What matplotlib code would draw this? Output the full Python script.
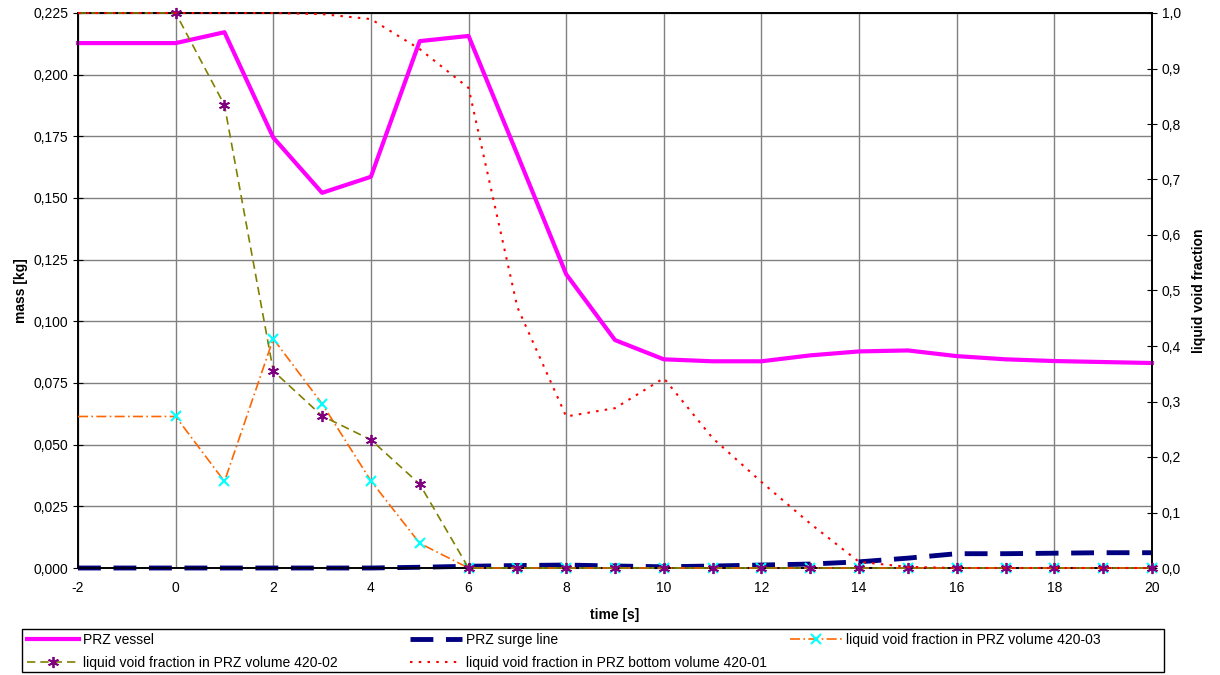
import matplotlib
matplotlib.use("Agg")
import matplotlib.pyplot as plt
from matplotlib.ticker import FuncFormatter, MultipleLocator
from matplotlib.patches import Rectangle

plt.rcParams['font.family'] = ['Liberation Sans', 'DejaVu Sans']

time = [-2, 0, 1, 2, 3, 4, 5, 6, 7, 8, 9, 10, 11, 12, 13, 14, 15, 16, 17, 18, 19, 20]

prz_vessel = [0.2128, 0.2128, 0.2172, 0.1745, 0.1521, 0.1586, 0.2136, 0.2157, 0.1676, 0.1191,
              0.0924, 0.0846, 0.0838, 0.0838, 0.0862, 0.0878, 0.0882, 0.0859, 0.0846, 0.0839,
              0.0835, 0.0831]
prz_surge = [0.0, 0.0, 0.0, 0.0, 0.0, 0.0, 0.0003, 0.0007, 0.0010, 0.0012,
             0.0008, 0.0005, 0.0008, 0.0012, 0.0016, 0.0025, 0.0040, 0.0058, 0.0058, 0.0060,
             0.0062, 0.0062]
void_420_03 = [0.273, 0.273, 0.156, 0.413, 0.296, 0.157, 0.0445, 0.0, 0.0, 0.0,
               0.0, 0.0, 0.0, 0.0, 0.0, 0.0, 0.0, 0.0, 0.0, 0.0, 0.0, 0.0]
void_420_02 = [1.0, 1.0, 0.834, 0.355, 0.274, 0.231, 0.151, 0.0, 0.0, 0.0,
               0.0, 0.0, 0.0, 0.0, 0.0, 0.0, 0.0, 0.0, 0.0, 0.0, 0.0, 0.0]
void_420_01 = [1.0, 1.0, 1.0, 1.0, 0.998, 0.989, 0.935, 0.865, 0.47, 0.273,
               0.288, 0.342, 0.234, 0.155, 0.08, 0.011, 0.002, 0.0, 0.0, 0.0, 0.0, 0.0]

labels = ["PRZ vessel", "PRZ surge line", "liquid void fraction in PRZ volume 420-03",
          "liquid void fraction in PRZ volume 420-02",
          "liquid void fraction in PRZ bottom volume 420-01"]

W, H = 1220, 675
fig = plt.figure(figsize=(W / 100, H / 100), dpi=100)
ax = fig.add_axes([78 / W, 107 / H, 1074 / W, 555 / H])
ax2 = ax.twinx()

comma = lambda d: FuncFormatter(lambda v, p: f"{v:.{d}f}".replace(".", ","))

h1, = ax.plot(time, prz_vessel, color="#FF00FF", lw=3, label=labels[0], zorder=3, clip_on=False)
h2, = ax.plot(time, prz_surge, color="#000080", lw=3.5, dashes=(4.7, 2.6), label=labels[1],
              zorder=3, clip_on=False)

h3, = ax2.plot(time, void_420_03, color="#FF6600", lw=1.2, dashes=(6, 2, 1, 2),
               marker="x", markersize=7, mec="#00FFFF", mew=1.5, markevery=slice(1, None),
               label=labels[2], clip_on=False, zorder=3)
h4, = ax2.plot(time, void_420_02, color="#808000", lw=1.2, dashes=(5, 3),
               marker=(6, 2, 0), markersize=8, mec="#800080", mew=1.3, markevery=slice(1, None),
               label=labels[3], clip_on=False, zorder=3)
h5, = ax2.plot(time, void_420_01, color="#FF0000", lw=1.5, dashes=(1.2, 3),
               label=labels[4], clip_on=False, zorder=3)

ax.set_xlim(-2, 20)
ax.set_ylim(0, 0.225)
ax2.set_ylim(0, 1.0)
ax.xaxis.set_major_locator(MultipleLocator(2))
ax.yaxis.set_major_locator(MultipleLocator(0.025))
ax2.yaxis.set_major_locator(MultipleLocator(0.1))
ax.yaxis.set_major_formatter(comma(3))
ax2.yaxis.set_major_formatter(comma(1))
ax.xaxis.set_major_formatter(FuncFormatter(lambda v, p: f"{v:.0f}"))

ax.grid(True, color="#808080", lw=1)
ax.set_axisbelow(True)
for a in (ax, ax2):
    for s in a.spines.values():
        s.set_color("black")
        s.set_linewidth(1.2)
ax.tick_params(axis="y", direction="inout", length=7, labelsize=10)
ax.tick_params(axis="x", direction="inout", length=0, labelsize=10, pad=9)
ax2.tick_params(axis="y", direction="inout", length=7, labelsize=10)

ax.set_ylabel("mass [kg]", fontweight="bold", fontsize=10, labelpad=4)
ax2.set_ylabel("liquid void fraction", fontweight="bold", fontsize=10, labelpad=8)
ax.set_xlabel("time [s]", fontweight="bold", fontsize=10, labelpad=10)

# legend frame
fig.add_artist(Rectangle((22 / W, (H - 672) / H), (1164 - 22) / W, (672 - 629) / H,
                         transform=fig.transFigure, facecolor="white", edgecolor="black",
                         lw=1.0, zorder=5))

cols = [([h1, h4], 27), ([h2, h5], 410), ([h3], 790)]
for hs, x0 in cols:
    lg = fig.legend(hs, [h.get_label() for h in hs], loc="upper left",
                    bbox_to_anchor=(x0 / W, (H - 633) / H), frameon=False, fontsize=10,
                    borderpad=0, borderaxespad=0, handlelength=3.75, handletextpad=0.3,
                    labelspacing=0.65)
    lg.set_zorder(6)

fig.savefig("out.png", dpi=100)
